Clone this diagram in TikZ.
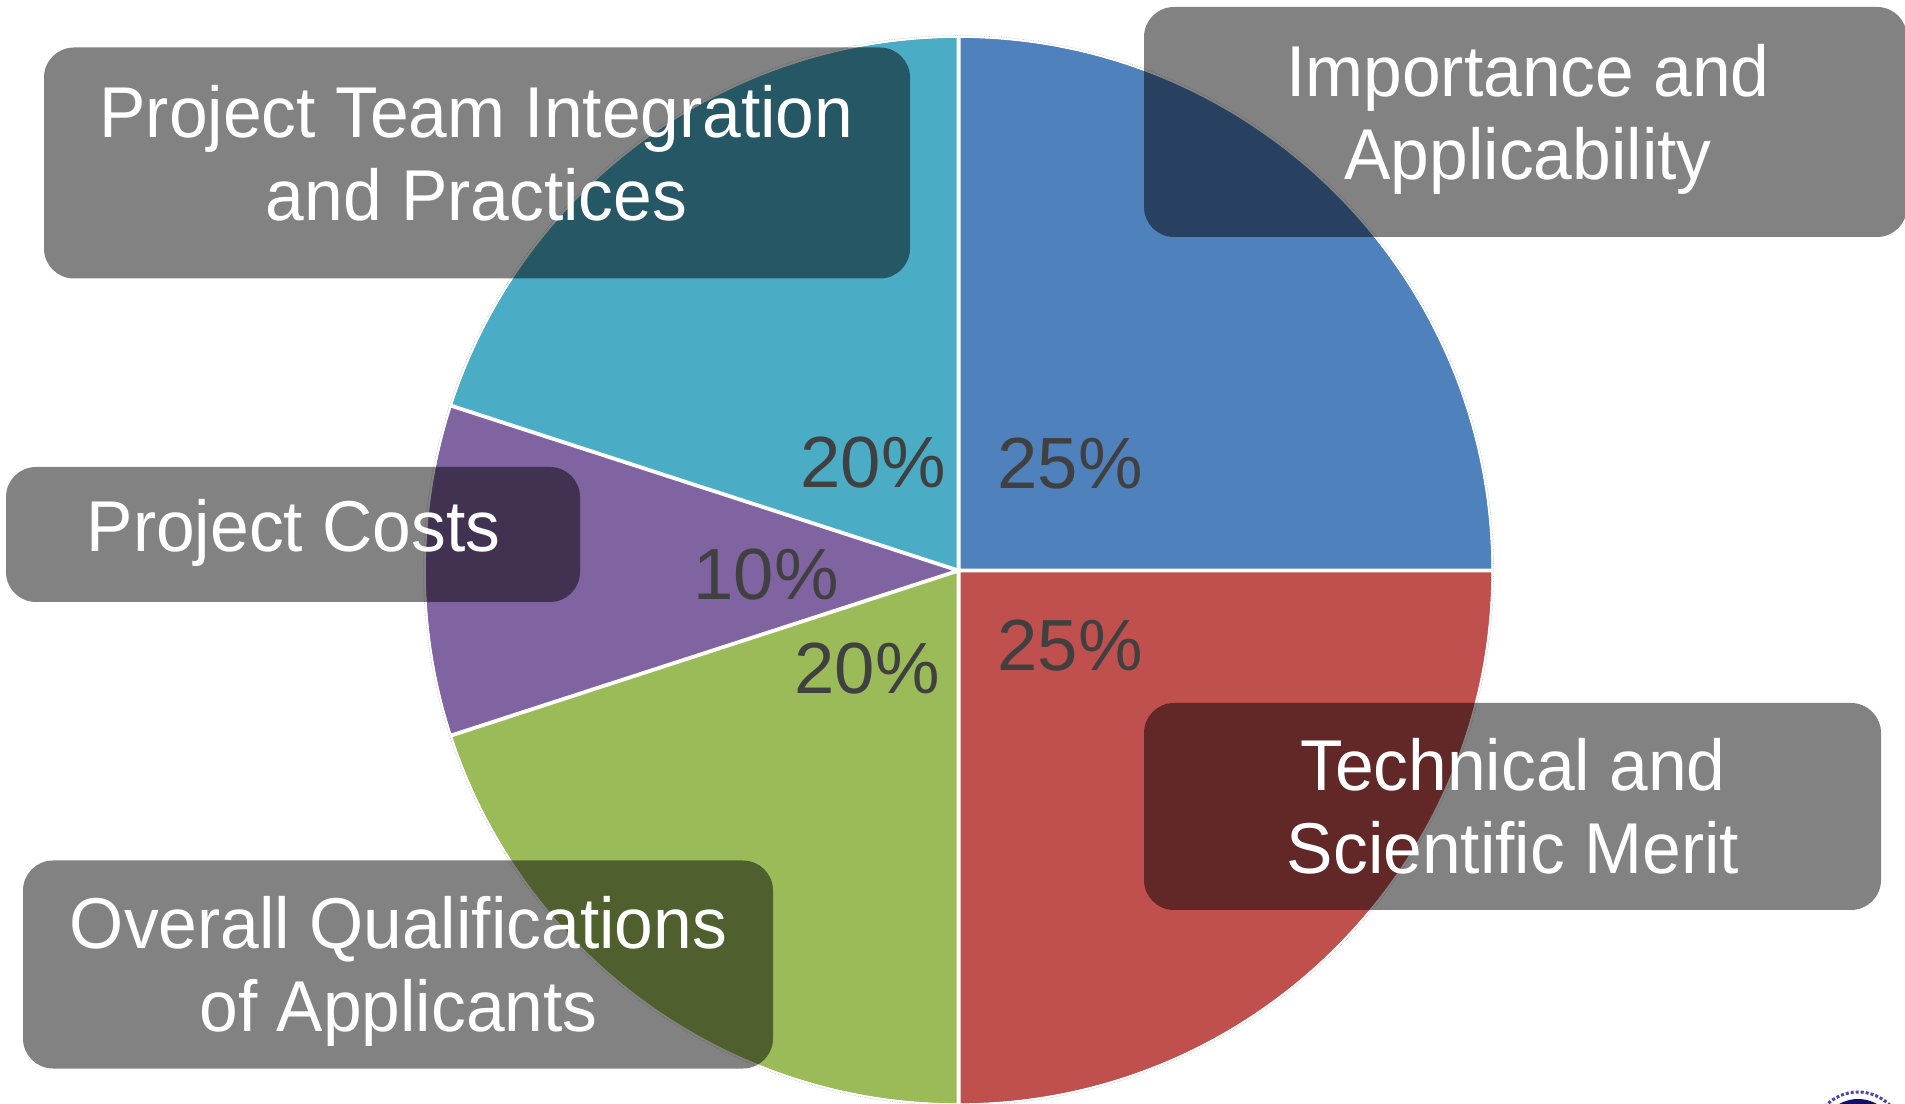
\documentclass[tikz,border=0pt]{standalone}
\usepackage{fontspec}
\setmainfont{Liberation Sans}
\newfontfamily\lblfont[FakeStretch=0.966]{Liberation Sans}
\definecolor{sliceblue}{HTML}{4F81BD}
\definecolor{slicered}{HTML}{C0504D}
\definecolor{slicegreen}{HTML}{9BBB59}
\definecolor{slicepurple}{HTML}{8064A2}
\definecolor{slicecyan}{HTML}{4BACC6}
\definecolor{pcttext}{HTML}{404040}
\definecolor{sealnavy}{HTML}{10106A}
\newcommand{\ph}{\vphantom{Ag}}
\tikzset{
  x=1pt,y=1pt,
  labelbox/.style={rectangle,rounded corners=30pt,fill=black,fill opacity=0.49,draw=none,inner sep=0pt},
  labeltext/.style={inner sep=0pt,text=white,align=center,font=\lblfont\fontsize{72}{83}\selectfont},
  pct/.style={inner sep=0pt,text=pcttext,font=\fontsize{72.5}{83}\selectfont},
}
\begin{document}
\begin{tikzpicture}
\useasboundingbox (0,0) rectangle (1905,1103);
\clip (0,0) rectangle (1905,1103);
\coordinate (c) at (958.6,532.4);
% faint halo round the pie
\draw[gray!45,line width=0.7pt,densely dotted] (c) circle (535);
% slices
\fill[sliceblue] (c) -- ++(0:533) arc (0:90:533) -- cycle;
\fill[slicecyan] (c) -- ++(90:533) arc (90:162:533) -- cycle;
\fill[slicepurple] (c) -- ++(162:533) arc (162:198:533) -- cycle;
\fill[slicegreen] (c) -- ++(198:533) arc (198:270:533) -- cycle;
\fill[slicered] (c) -- ++(270:533) arc (270:360:533) -- cycle;
\draw[white,line width=3.8pt] (c) -- ++(0:534) (c) -- ++(90:534) (c) -- ++(162:534) (c) -- ++(198:534) (c) -- ++(270:534);
\draw[white,line width=1.5pt] (c) circle (533.5);
% percentages
\node[pct] (p1) at (1070,632) {25\%\ph};
\node[pct] (p2) at (873,633) {20\%\ph};
\node[pct] (p3) at (766,521) {10\%\ph};
\node[pct] (p4) at (867,427) {20\%\ph};
\node[pct] (p5) at (1070,450) {25\%\ph};
% seal
\fill[white] (1858,-34) circle (50);
\draw[blue!45!gray,line width=3pt,dotted] (1858,-34) circle (45);
\fill[sealnavy] (1858,-34) circle (38);
% boxes
\node[labelbox,minimum width=866pt,minimum height=231pt] (bteam) at (477,940) {};
\node[labelbox,minimum width=763pt,minimum height=230pt] (bimp) at (1525.5,981) {};
\node[labelbox,minimum width=574pt,minimum height=135pt] (bcost) at (293,568.5) {};
\node[labelbox,minimum width=737pt,minimum height=207pt] (btech) at (1512.5,296.5) {};
\node[labelbox,minimum width=750pt,minimum height=208pt] (bover) at (398,138.5) {};
% box texts
\node[labeltext] (tteam) at (476.5,943) {\ph Project Team Integration\\\ph and Practices};
\node[labeltext] (timp) at (1528,984) {\ph Importance and\\\ph Applicability};
\node[labeltext] (tcost) at (293.5,570.5) {\ph Project Costs};
\node[labeltext] (ttech) at (1513,289.5) {\ph Technical and\\\ph Scientific Merit};
\node[labeltext] (tover) at (398.5,131.5) {\ph Overall Qualifications\\\ph of Applicants};
\end{tikzpicture}
\end{document}
